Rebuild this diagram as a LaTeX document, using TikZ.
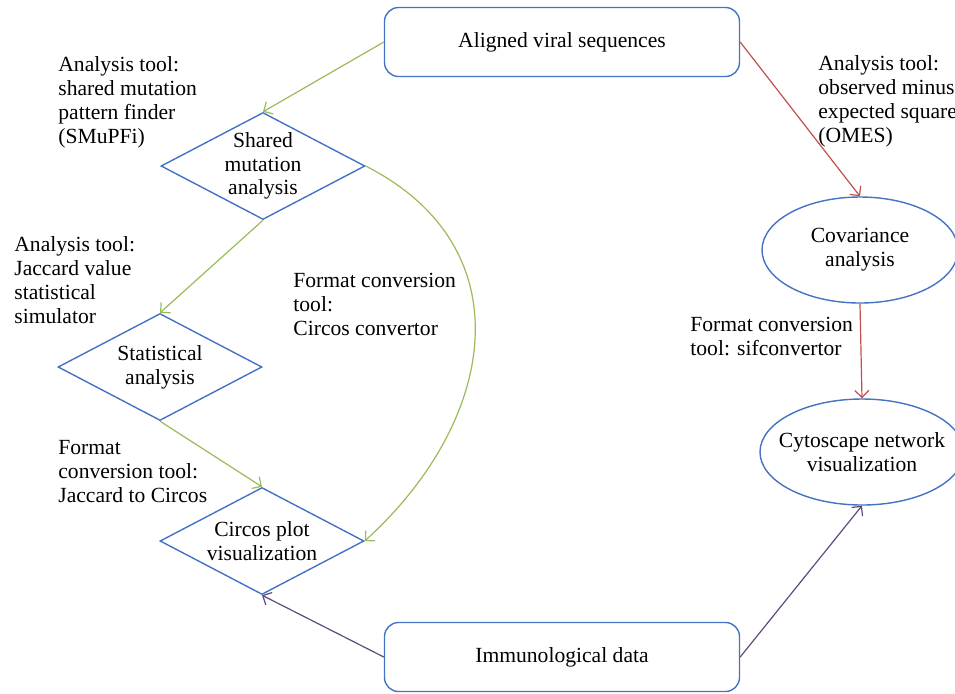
\documentclass[tikz,border=0pt]{standalone}
\usepackage{fontspec}
\setmainfont{Liberation Serif}
\usetikzlibrary{shapes.geometric, arrows.meta}

\definecolor{boxblue}{RGB}{68,114,196}
\definecolor{flowgreen}{RGB}{155,187,89}
\definecolor{flowred}{RGB}{192,80,77}
\definecolor{flowpurple}{RGB}{96,74,123}

\begin{document}
\begin{tikzpicture}[
    x=0.5pt, y=-0.5pt,
    font=\fontsize{10.8}{11.9}\selectfont,
    source/.style={rectangle, rounded corners=7pt, draw=boxblue, line width=0.7pt,
                   minimum width=177.5pt, minimum height=34.5pt, align=center},
    decision/.style={diamond, draw=boxblue, line width=0.7pt, aspect=1.9, inner sep=-3pt,
                     minimum width=102pt, minimum height=53.5pt, align=center},
    result/.style={ellipse, draw=boxblue, line width=0.7pt, inner sep=-6pt,
                   minimum width=98pt, minimum height=53pt, align=center},
    tool/.style={anchor=base west, inner sep=0pt, align=left},
    arrow/.style={-{Straight Barb[length=3.5pt, width=7pt]}, line width=0.6pt}
]
\useasboundingbox (0,0) rectangle (955,693);

% --- Entradas ---
\node[source] (aligned) at (562,42) {Aligned viral sequences};
\node[source] (immuno) at (562,657) {Immunological data};

% --- Rama izquierda: SMuPFi ---
\node[decision] (shared) at (263,166) {Shared\\mutation\\analysis};
\node[decision] (statistical) at (160,367) {Statistical\\analysis};
\node[decision] (circos) at (262,541) {Circos plot\\visualization};

% --- Rama derecha: OMES ---
\node[result] (covariance) at (860,250) {Covariance\\analysis};
\node[result, minimum width=102pt] (cytoscape) at (862,452) {Cytoscape network\\visualization};

% --- Herramientas (anclas en la ultima linea) ---
\node[tool] (lbl_smupfi) at (58,143) {Analysis tool:\\shared mutation\\pattern finder\\(SMuPFi)};
\node[tool] (lbl_jaccard) at (14,323) {Analysis tool:\\Jaccard value\\statistical\\simulator};
\node[tool] (lbl_jac2circ) at (58,502) {Format\\conversion tool:\\Jaccard to Circos};
\node[tool] (lbl_circconv) at (293,335) {Format conversion\\tool:\\Circos convertor};
\node[tool] (lbl_omes) at (818,142) {Analysis tool:\\observed minus\\expected square\\(OMES)};
\node[tool] (lbl_sif) at (690,355) {Format conversion\\tool: sifconvertor};

% --- Flechas ---
\draw[arrow, flowgreen] (aligned.west) -- (shared.north);
\draw[arrow, flowgreen] (shared.south) -- (statistical.north);
\draw[arrow, flowgreen] (statistical.south) -- (circos.north);
\draw[arrow, flowgreen] (shared.east) .. controls (525,247) and (498,420) .. (circos.east);

\draw[arrow, flowred] (aligned.east) -- (covariance.north);
\draw[arrow, flowred] (covariance.south) -- (cytoscape.north);

\draw[arrow, flowpurple] (immuno.west) -- (circos.south);
\draw[arrow, flowpurple] (immuno.east) -- (cytoscape.south);

\end{tikzpicture}
\end{document}
